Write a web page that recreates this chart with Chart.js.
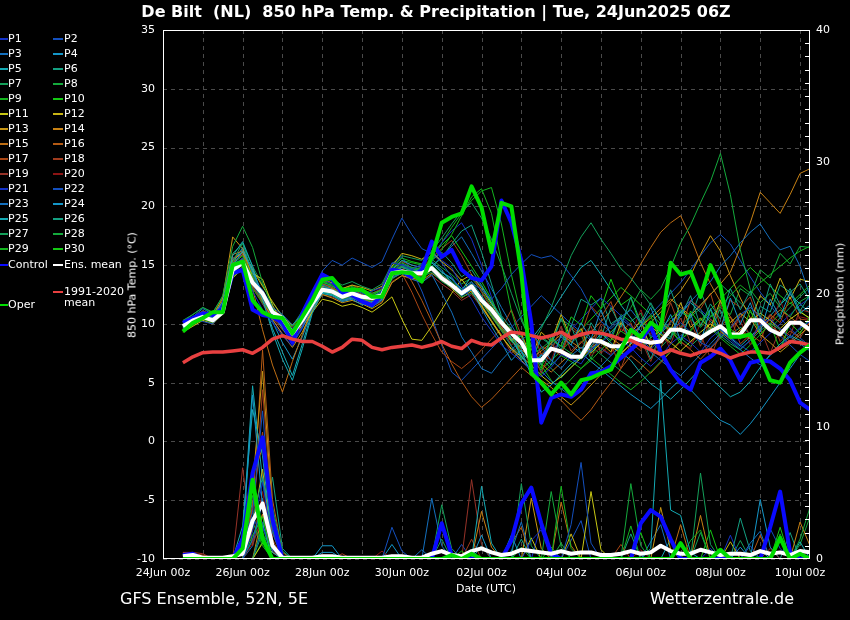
<!DOCTYPE html>
<html>
<head>
<meta charset="utf-8">
<script src="https://cdn.jsdelivr.net/npm/chart.js@4.4.1/dist/chart.umd.min.js"></script>
<style>
html, body { margin: 0; padding: 0; background: #000; }
#wrap { position: relative; width: 850px; height: 620px; overflow: hidden; font-family: "DejaVu Sans", sans-serif; color: #fff; }
canvas { position: absolute; left: 0; top: 0; }
.t { position: absolute; white-space: pre; }
.lg { position: absolute; font-size: 11px; line-height: 14px; white-space: pre; }
.rot { position: absolute; font-size: 11px; white-space: nowrap; transform: translate(-50%, -50%) rotate(-90deg); }
</style>
</head>
<body>
<div id="wrap">
  <canvas id="c" width="850" height="620"></canvas>
  <div class="t" style="left:0;width:872px;top:2px;text-align:center;font-weight:bold;font-size:16px;line-height:20px">De Bilt  (NL)  850 hPa Temp. &amp; Precipitation | Tue, 24Jun2025 06Z</div>
  <div class="rot" style="left:132px;top:285px">850 hPa Temp. (°C)</div>
  <div class="rot" style="left:840px;top:294px">Precipitation (mm)</div>
  <div class="t" style="left:436px;width:100px;top:582px;text-align:center;font-size:11px;line-height:14px">Date (UTC)</div>
  <div class="t" style="left:120px;top:589px;font-size:16px;line-height:20px">GFS Ensemble, 52N, 5E</div>
  <div class="t" style="right:56px;top:589px;font-size:16px;line-height:20px">Wetterzentrale.de</div>
  <div id="legend"></div>
</div>
<script>
// 6-hourly steps, hours after 24Jun 00z (first step 24Jun 12z, last 10Jul 06z)
const leadHours = Array.from({ length: 64 }, (_, i) => 12 + 6 * i)
const dateLabels = ["24Jun 00z", "26Jun 00z", "28Jun 00z", "30Jun 00z", "02Jul 00z", "04Jul 00z", "06Jul 00z", "08Jul 00z", "10Jul 00z"]

// 850 hPa temperature (°C)
const climTemp = [6.7,7.2,7.55,7.6,7.6,7.7,7.8,7.5, 8.0,8.7,9.0,8.7,8.5,8.5,8.1,7.6, 8.0,8.7,8.6,8.0,7.8,8.0,8.1,8.2, 8.0,8.2,8.5,8.1,7.9,8.6,8.3,8.2, 8.8,9.3,9.2,9.0,8.8,9.0,9.3,8.8, 9.1,9.3,9.2,9.0,8.7,8.6,8.2,7.8, 7.4,7.8,7.5,7.3,7.6,7.8,7.5,7.1, 7.4,7.6,7.6,7.5,8.0,8.5,8.4,8.2]
const meanTemp = [9.8,10.3,10.6,10.3,11.0,14.6,15.2,13.5, 12.6,11.0,10.5,9.2,10.3,11.7,12.9,12.75, 12.3,12.6,12.3,12.2,12.45,14.3,14.45,14.3, 14.3,14.75,13.9,13.3,12.6,13.2,12.0,11.2, 10.1,9.2,8.4,6.9,6.9,7.9,7.65,7.2, 7.2,8.6,8.5,8.1,8.1,8.8,8.6,8.4, 8.5,9.5,9.5,9.2,8.8,9.35,9.8,9.1, 9.1,10.3,10.3,9.5,9.1,10.1,10.1,9.5]
const controlTemp = [10.1,10.5,10.9,10.75,11.3,14.3,14.6,11.2, 10.75,10.6,10.1,8.4,10.9,12.6,14.2,13.75, 12.6,12.45,11.9,11.6,12.45,14.6,14.45,14.0, 14.6,17.0,15.7,16.3,14.6,13.9,13.7,14.9, 20.5,18.6,15.4,10.1,1.6,3.7,4.0,3.8, 4.4,5.8,5.9,6.4,7.1,7.8,8.6,9.8, 7.6,6.1,5.0,4.4,6.7,7.2,7.9,6.9, 5.2,6.7,6.9,6.8,6.2,5.2,3.3,2.7]
const operTemp = [9.35,10.1,10.5,11.0,11.0,15.0,15.3,12.0, 11.0,10.6,10.5,9.2,10.6,12.0,13.75,13.9, 12.9,12.9,12.9,12.3,12.3,14.3,14.4,14.3, 13.6,15.7,18.6,19.1,19.4,21.7,19.9,16.1, 20.3,20.0,14.3,5.8,5.0,4.0,5.0,4.0, 5.2,5.4,5.8,6.1,7.8,9.5,8.9,10.1, 9.5,15.2,14.2,14.45,12.3,15.0,13.2,8.9, 8.9,9.1,7.2,5.2,5.0,6.7,7.55,8.2]

const tP01 = [9.6,10.1,10.9,10.2,11.8,15.0,15.6,12.8, 11.2,10.1,9.0,8.1,9.8,12.0,13.8,13.4, 12.6,12.9,12.4,12.8,13.1,15.2,15.0,14.6, 15.1,16.2,15.4,14.8,13.2,12.1,10.6,9.4, 8.2,7.5,6.8,6.1,5.5,6.3,7.4,7.0, 6.6,7.9,8.4,9.1,8.6,8.0,7.1,6.4, 7.2,8.3,9.0,8.4,7.6,8.8,9.5,8.7, 7.9,8.6,9.9,10.4,9.6,8.8,9.7,10.2]
const tP02 = [9.9,10.4,10.2,10.0,11.0,14.2,14.8,13.6, 12.4,11.0,10.3,9.6,10.6,12.3,14.5,15.4, 15.0,15.6,15.2,14.8,15.3,17.2,19.0,17.6, 16.4,16.0,15.2,14.0,12.8,13.5,12.9,12.1, 13.0,14.2,15.1,15.9,15.6,15.8,15.2,14.1, 13.0,11.4,10.2,9.6,10.4,9.8,8.7,7.9, 8.6,9.4,10.1,9.3,8.4,8.0,8.9,9.6, 10.8,11.4,10.6,9.7,9.0,8.2,7.4,6.8]
const tP03 = [10.1,10.6,11.3,10.8,11.6,14.4,15.0,13.8, 12.9,11.4,10.8,9.9,10.9,12.4,13.3,12.9, 12.0,12.3,11.8,11.5,12.0,13.9,14.3,13.8, 13.5,14.2,12.6,11.0,8.9,7.6,6.2,5.8, 6.9,7.8,8.6,9.3,8.1,6.9,6.2,7.3, 8.0,7.6,8.9,9.8,10.6,11.2,10.1,9.0, 8.6,9.3,10.7,11.9,12.8,13.6,14.9,15.8, 16.9,17.8,18.5,17.2,16.3,16.6,14.9,12.4]
const tP04 = [9.7,10.2,10.7,10.5,11.4,14.9,16.2,14.5, 12.6,10.9,9.6,8.4,9.7,11.3,12.6,12.4, 11.9,12.1,11.6,11.9,12.2,14.6,15.4,15.0, 14.8,15.3,14.6,13.5,12.4,12.9,11.3,9.8, 8.4,6.9,7.8,5.6,7.4,6.5,9.1,8.2, 10.1,8.7,11.2,9.0,10.5,8.3,9.9,11.4, 9.2,10.8,8.6,10.9,8.4,11.3,9.5,12.2, 10.0,11.8,9.3,12.1,10.6,12.7,10.9,11.6]
const tP05 = [9.9,10.5,11.0,10.6,11.9,15.8,17.0,14.9, 12.1,9.3,7.0,5.2,7.9,10.9,12.7,12.5, 12.0,12.2,11.8,11.4,12.1,14.1,14.6,14.0, 14.5,15.2,14.4,13.9,12.8,14.1,13.2,11.8, 10.5,8.7,7.3,5.9,4.2,4.8,5.7,6.6, 7.2,8.1,9.2,8.4,7.6,6.9,5.8,4.9, 4.3,3.6,4.4,5.3,6.2,5.4,4.6,3.8, 4.2,5.1,6.3,7.4,8.3,9.0,8.6,8.1]
const tP06 = [9.5,10.0,10.6,10.4,11.1,14.3,15.1,13.4, 12.2,11.2,10.4,9.5,10.5,12.0,13.1,12.9, 12.6,12.9,12.7,12.3,12.7,14.2,14.8,14.5, 14.2,14.9,15.6,16.8,17.9,18.4,16.1,13.4, 10.7,9.6,6.9,8.2,6.5,9.0,7.8,9.9, 7.4,10.1,8.8,11.4,9.7,12.3,10.1,11.8, 10.2,12.9,10.6,12.4,9.8,11.7,10.4,13.0, 11.2,12.8,10.5,13.4,11.6,13.0,11.1,12.5]
const tP07 = [9.8,10.2,10.5,10.4,11.3,15.3,16.9,14.2, 12.3,10.7,9.9,8.7,10.1,11.6,12.8,12.5, 12.2,12.6,12.4,12.1,12.4,14.0,14.3,14.1, 14.0,14.4,13.6,13.1,12.3,12.6,11.8,10.6, 9.4,8.1,7.3,8.2,9.6,11.4,13.6,15.8, 17.4,18.6,17.2,16.0,14.7,13.9,12.8,11.6, 10.4,9.6,8.8,8.1,8.9,9.7,9.0,8.3, 7.8,8.6,9.4,10.1,9.5,8.8,9.6,10.3]
const tP08 = [10.2,10.8,11.4,10.9,12.4,16.6,18.3,16.5, 13.5,11.4,9.9,9.0,10.6,12.5,13.6,13.2, 12.8,13.1,12.9,12.6,12.9,14.4,14.9,14.6, 14.7,15.0,14.2,13.6,12.9,13.4,12.2,10.8, 9.6,8.7,8.0,7.4,7.9,8.6,8.1,7.5, 7.0,7.7,8.5,9.3,10.2,11.4,12.9,12.1, 13.0,14.8,16.9,18.4,20.3,22.1,24.5,21.0, 16.3,12.9,11.8,12.6,11.4,10.6,11.9,12.4]
const tP09 = [9.4,9.9,10.4,10.1,10.8,14.0,14.7,13.0, 11.8,10.9,10.2,9.4,10.2,11.4,12.6,12.4, 12.1,12.4,12.2,11.9,12.3,14.5,15.2,14.8, 14.6,15.4,16.3,17.6,19.2,20.8,21.5,19.4, 15.2,11.1,8.3,6.4,5.7,6.5,7.3,6.8, 6.2,6.9,7.8,8.6,9.4,8.8,8.1,8.8, 9.6,10.5,11.2,10.4,9.7,10.6,11.5,12.4, 13.3,12.6,13.5,14.2,14.9,15.6,16.2,16.6]
const tP10 = [9.7,10.3,10.9,10.6,11.5,15.1,15.8,13.9, 12.5,11.3,10.4,9.8,10.8,12.1,13.5,13.3, 12.7,13.0,12.8,12.4,12.9,14.8,15.6,15.3, 15.1,15.9,16.7,17.5,16.2,14.9,13.6,12.1, 10.3,9.5,7.1,7.9,6.2,8.8,8.1,10.6, 9.9,12.4,11.3,13.8,11.6,12.2,9.8,10.7, 8.5,9.7,8.3,11.1,9.9,11.2,8.8,9.6, 8.7,11.2,9.1,10.0,7.8,10.1,9.2,10.6]
const tP11 = [9.3,9.8,10.3,10.0,10.9,13.9,14.7,14.3, 13.8,11.6,10.0,9.1,9.8,11.0,12.1,11.9, 11.5,11.7,11.4,11.0,11.6,12.3,10.4,8.7, 8.6,9.8,11.2,12.6,13.8,12.7,11.5,10.2, 8.9,7.9,7.2,6.5,5.6,4.9,5.5,6.3, 7.1,7.9,8.7,8.1,7.5,8.3,9.0,9.8, 9.1,8.4,7.7,8.5,9.3,10.0,9.4,8.7, 9.5,10.2,10.9,10.3,9.6,10.4,11.0,10.5]
const tP12 = [9.6,10.1,10.6,10.3,11.7,15.4,16.1,14.6, 13.2,11.9,10.6,9.9,10.8,12.2,13.7,13.5, 13.0,13.3,13.1,12.8,13.2,14.9,16.0,15.8, 15.5,16.1,15.3,14.6,13.7,14.2,13.0,11.7, 10.4,8.6,9.2,7.1,9.3,8.5,10.8,8.7, 9.6,7.5,8.4,7.6,10.1,9.2,10.3,7.9, 10.2,9.4,11.8,9.7,10.5,9.6,12.0,10.1, 10.9,10.2,12.4,11.6,13.9,12.1,13.8,13.6]
const tP13 = [10.0,10.5,11.0,10.7,12.2,17.4,16.4,13.9, 12.0,10.4,9.1,8.0,9.3,11.1,12.5,12.2, 11.8,12.0,11.7,11.3,11.8,13.5,14.1,13.9, 13.7,14.3,13.7,13.0,12.2,12.8,11.6,10.3, 9.0,7.8,6.9,6.0,5.2,4.6,3.8,3.1, 3.9,4.8,5.7,6.5,7.4,8.3,9.2,10.1, 11.0,11.9,12.8,14.1,15.9,17.5,16.2,14.1, 12.2,10.5,9.1,8.4,7.6,8.3,9.1,9.8]
const tP14 = [9.5,10.0,10.4,10.2,11.3,14.8,15.6,13.5, 12.3,11.0,10.1,9.2,10.4,11.9,13.2,13.0, 12.5,12.7,12.4,12.0,12.4,14.2,14.6,14.2, 14.1,14.6,13.9,13.2,12.5,13.0,11.9,10.7, 9.5,8.6,7.8,7.1,7.7,8.4,9.1,8.5, 7.9,8.7,9.5,8.8,8.2,9.0,9.8,10.5, 11.3,12.1,11.4,10.7,11.6,12.5,13.4,14.4, 16.5,18.6,21.2,20.3,19.4,21.0,22.8,23.2]
const tP15 = [9.9,10.4,10.8,10.5,12.0,15.9,16.2,13.0, 9.5,6.5,4.2,6.8,9.1,11.5,13.0,12.7, 12.3,12.6,12.2,11.8,12.3,14.1,14.6,14.3, 14.4,14.8,14.0,13.4,12.6,13.1,12.0,10.8, 9.7,8.8,8.0,7.3,6.6,5.9,6.7,7.5, 8.4,9.3,10.2,11.1,12.3,13.6,15.1,16.5, 17.8,18.6,19.2,17.4,15.2,13.4,11.9,10.6, 9.5,8.7,9.6,10.4,11.2,10.6,9.9,9.3]
const tP16 = [9.8,10.3,10.7,10.4,11.6,15.2,15.9,14.0, 12.6,11.2,10.2,9.4,10.5,12.1,13.4,13.1, 12.6,12.9,12.5,12.2,12.6,14.3,14.9,13.6, 12.0,10.2,8.3,6.6,5.1,3.8,2.9,3.6, 4.5,5.4,6.3,5.6,4.8,4.1,3.5,2.6, 1.8,2.7,3.9,5.0,6.2,7.3,6.6,5.8, 6.7,7.6,8.5,7.8,7.0,7.9,8.8,9.7, 10.6,11.4,10.7,9.9,9.2,8.5,9.3,10.1]
const tP17 = [9.6,10.1,10.5,10.3,11.4,14.6,15.4,13.2, 11.9,10.6,9.7,8.9,10.0,11.5,12.8,12.6, 12.1,12.4,12.0,11.7,12.1,13.9,14.3,12.7, 10.8,9.1,7.6,6.8,6.2,6.9,7.8,8.7, 9.6,11.2,9.0,9.7,7.4,8.3,7.5,9.8, 9.1,11.5,10.6,11.9,9.3,10.1,7.9,8.7, 7.9,10.3,9.4,12.0,11.3,12.6,9.8,10.6, 8.3,9.1,8.5,10.8,10.1,12.3,10.4,10.3]
const tP18 = [10.1,10.6,11.1,10.8,12.1,15.6,16.0,14.1, 12.7,11.5,10.5,9.7,10.9,12.4,13.8,13.5, 13.0,13.3,12.9,12.6,13.0,14.6,15.3,15.0, 14.8,15.6,16.4,17.1,15.8,14.2,12.7,11.3, 10.0,9.6,7.2,7.9,5.8,7.9,7.3,9.6, 8.9,9.8,7.5,8.3,6.2,8.4,7.7,10.1, 9.4,11.8,9.6,10.3,8.1,10.4,9.7,12.0, 11.4,12.3,9.9,10.8,8.5,9.4,8.8,10.2]
const tP19 = [9.4,9.9,10.4,10.1,11.0,14.1,14.9,13.1, 11.7,10.5,9.5,8.6,9.9,11.3,12.5,12.3, 11.9,12.2,11.8,11.5,11.9,13.6,14.1,13.8, 13.6,14.1,13.4,12.8,12.0,12.5,11.4,10.2, 9.1,7.5,8.3,6.2,8.1,7.6,9.8,7.7, 8.5,7.7,10.0,9.3,10.2,8.0,8.7,6.8, 8.9,8.3,10.5,8.4,9.1,7.1,9.3,8.7, 10.9,8.8,9.6,7.5,9.6,9.0,11.2,11.0]
const tP20 = [9.7,10.2,10.7,10.4,11.3,14.7,15.3,13.6, 12.2,10.9,9.9,9.1,10.3,11.8,13.0,12.8, 12.3,12.6,12.3,12.0,12.4,14.0,14.6,14.3, 14.2,14.8,14.1,13.5,12.8,13.3,12.2,11.0, 9.8,8.2,8.8,6.7,7.5,6.9,9.1,8.5, 9.3,7.3,8.0,7.4,9.6,9.0,11.2,9.1, 9.8,7.7,8.5,7.9,10.1,9.5,11.7,9.6, 10.3,8.2,10.4,9.8,12.0,9.9,10.6,10.4]
const tP21 = [9.8,10.4,11.0,10.7,11.9,15.5,15.9,13.4, 11.7,10.3,9.2,8.3,9.6,11.4,13.1,12.9, 12.4,12.7,12.3,12.0,12.5,14.4,15.1,14.8, 14.6,15.3,16.9,17.9,18.6,17.2,15.0,12.3, 9.8,8.1,6.9,6.1,6.8,7.7,8.6,9.5, 10.4,11.3,12.2,11.5,10.7,9.9,9.1,8.4, 9.3,10.2,11.1,12.0,11.2,10.4,9.6,8.9, 8.2,7.6,8.4,9.2,10.0,10.8,11.6,12.2]
const tP22 = [10.0,10.5,10.9,10.6,11.7,15.0,15.5,13.2, 11.9,10.7,9.8,9.0,10.2,11.8,13.4,13.2, 12.8,13.0,12.6,12.3,12.8,14.9,15.7,14.6, 12.8,10.6,8.2,5.9,5.2,6.1,7.0,7.9, 8.8,9.7,10.6,11.5,12.4,11.6,10.8,10.0, 9.3,8.6,7.9,7.3,8.1,9.0,9.9,10.8, 11.7,12.6,13.5,14.6,15.8,16.9,17.6,16.8, 15.4,14.0,12.7,11.6,10.5,9.6,8.8,8.1]
const tP23 = [9.5,10.0,10.5,10.2,11.1,14.5,15.2,13.5, 12.1,10.8,9.7,8.9,10.1,11.6,12.9,12.7, 12.2,12.5,12.1,11.8,12.2,14.0,14.6,14.4, 14.2,14.9,15.7,16.6,17.4,16.0,14.5,13.0, 11.4,9.9,8.5,7.2,6.0,5.1,4.5,3.8, 4.6,5.5,6.4,7.3,8.2,9.1,8.4,7.6, 6.9,6.2,5.6,6.5,7.4,8.3,9.2,8.5, 7.8,7.1,6.5,7.3,8.1,8.9,8.3,7.7]
const tP24 = [9.8,10.3,10.8,10.5,11.5,15.1,16.5,14.4, 12.3,10.2,8.4,7.0,8.9,11.2,12.9,12.6, 12.1,12.4,12.1,11.8,12.3,14.2,14.8,14.5, 14.3,14.9,14.2,13.5,12.7,13.2,12.1,10.9, 9.7,8.6,7.6,6.7,7.3,8.1,8.9,8.2, 7.5,6.8,6.1,5.4,4.7,4.0,3.4,2.8, 3.6,4.5,5.3,4.4,3.5,2.6,1.8,1.4, 0.6,1.5,2.6,3.8,5.0,6.2,7.4,8.5]
const tP25 = [9.9,10.4,10.9,10.6,11.8,15.5,16.3,14.7, 12.2,9.6,7.6,5.6,8.3,11.1,12.8,12.6, 12.2,12.5,12.2,11.9,12.4,14.3,14.9,14.6, 14.5,15.2,14.4,13.8,13.0,13.6,12.4,11.1, 9.9,8.8,7.9,8.7,9.8,11.0,12.3,13.6, 14.8,15.4,14.2,12.9,11.6,10.5,9.4,8.4, 9.2,10.1,11.0,11.8,11.0,10.2,9.5,8.8, 8.1,8.9,9.8,10.7,11.6,12.5,11.7,10.9]
const tP26 = [9.6,10.1,10.6,10.3,11.2,14.6,15.3,13.6, 12.3,11.1,10.1,9.3,10.4,11.9,13.2,13.0, 12.5,12.8,12.4,12.1,12.5,14.3,14.9,14.7, 14.6,15.4,16.1,15.2,14.0,14.6,13.3,11.9, 10.6,8.7,9.0,6.8,8.8,8.2,10.4,9.8, 12.1,11.6,12.2,10.0,10.6,8.4,9.1,7.0, 9.2,8.7,11.0,10.5,12.8,10.6,11.2,9.1, 9.7,9.2,11.5,11.0,13.3,12.7,13.4,12.0]
const tP27 = [10.3,10.8,11.4,11.0,12.3,16.0,16.8,14.9, 13.3,11.8,10.7,9.8,11.1,12.7,14.0,13.8, 13.3,13.6,13.2,12.9,13.4,15.1,15.8,15.6, 15.4,16.2,17.3,18.5,19.6,20.3,19.0,17.2, 15.0,12.6,10.3,8.5,7.1,6.2,5.4,6.3, 7.2,8.1,7.4,6.7,6.0,5.4,6.2,7.1, 8.0,8.9,9.8,10.7,11.6,12.5,13.4,12.6, 11.8,11.0,10.3,9.6,10.5,11.4,12.3,13.1]
const tP28 = [9.7,10.2,10.7,10.4,11.4,14.8,15.5,13.8, 12.4,11.1,10.2,9.3,10.5,12.0,13.3,13.1, 12.6,12.9,12.5,12.2,12.6,14.4,15.0,14.8, 14.7,15.5,14.8,14.2,13.4,13.9,12.8,11.5, 10.3,8.5,9.0,6.8,8.9,8.3,10.5,8.4, 9.1,7.0,9.2,8.6,10.8,10.2,10.9,8.8, 9.5,8.9,11.1,10.6,11.3,9.2,11.4,10.8, 13.0,12.4,14.6,13.9,16.0,15.1,16.6,16.5]
const tP29 = [10.0,10.5,11.1,10.7,11.9,15.4,16.1,14.2, 12.7,11.3,10.3,9.5,10.7,12.2,13.6,13.4, 12.9,13.2,12.8,12.5,12.9,14.7,15.4,15.2, 15.0,15.8,16.9,18.2,19.4,20.5,21.3,21.6, 18.5,14.2,10.6,8.1,6.5,5.2,4.4,5.3, 6.2,7.1,6.4,5.7,5.0,4.4,5.1,5.9, 6.8,7.7,8.6,9.5,10.4,9.6,8.8,8.1, 7.4,8.2,9.1,10.0,10.9,11.8,11.1,10.4]
const tP30 = [9.5,10.0,10.5,10.2,11.1,14.4,15.0,13.3, 12.0,10.8,9.8,9.0,10.1,11.5,12.7,12.5, 12.0,12.3,12.0,11.7,12.1,13.8,14.4,14.1, 13.9,14.6,13.9,13.3,12.5,13.0,11.9,10.7, 9.5,8.5,7.6,6.8,6.1,6.9,7.7,8.6, 9.5,10.4,11.3,12.2,13.1,12.4,11.6,10.8, 10.0,9.3,8.6,9.4,10.3,11.2,12.1,13.0, 13.9,14.8,14.0,13.2,12.4,11.7,12.5,13.3]

// 6-hourly precipitation (mm)
const meanRain = [0.2,0.3,0.1,0.1,0.1,0.2,0.4,2.9, 4.2,1.0,0.1,0.1,0.1,0.1,0.2,0.2, 0.1,0.1,0.1,0.1,0.1,0.2,0.2,0.1, 0.1,0.4,0.6,0.3,0.2,0.6,0.8,0.5, 0.3,0.4,0.7,0.6,0.5,0.4,0.6,0.4, 0.5,0.5,0.3,0.3,0.4,0.6,0.4,0.5, 1.0,0.6,0.4,0.4,0.7,0.5,0.3,0.4, 0.4,0.3,0.6,0.4,0.5,0.3,0.6,0.5]
const controlRain = [0.3,0.4,0,0,0,0,1.5,6.5, 9.2,3.0,0,0,0,0,0,0, 0,0,0,0,0,0,0,0, 0,0,2.7,0.3,0,0,0,0, 0,1.4,4.2,5.4,2.7,0.4,0,0, 0,0,0,0,0,0,2.7,3.7, 3.2,1.5,0,0,0,0,0,0, 0,0,0,2.4,5.1,0.5,0,0]
const operRain = [0,0,0,0,0,0,0.8,6.0, 1.5,0,0,0,0,0,0,0, 0,0,0,0,0,0,0,0, 0,0,0,0.3,0,0.4,0,0, 0,0,0,0,0,0,0,0, 0,0,0,0,0,0,0,0, 0,0,1.2,0,0,0,0.7,0, 0,0,0,0,1.6,0,0.4,0]

const rP01 = [0.3,0.4,0,0,0,0,0,2.1, 5.8,1.2,0,0,0,0,0,0, 0,0,0,0,0,0,0,0, 0,0,0,0,0,0,0,0, 0,0,0,1.4,2.2,0,0,0, 0,0,0,0,0,0,0,0, 0,0,0,0,0,0.8,0,0, 0,0,0,0,1.6,0,0,0]
const rP02 = [0,0,0,0,0,0,0.8,3.5, 11.2,2.0,0,0,0,0,0,0, 0,0,0,0,0,2.4,0.6,0, 0,0,0,0,0,0,0,0, 0,0,0,0,0,0,0,2.6, 7.3,1.2,0,0,0,0,0,0, 0,0,0,0,0,0,0,0, 0,1.0,0,0,0,0,0,0]
const rP03 = [0,0,0,0,0,0,0,1.5, 4.2,0.8,0,0,0,0,0,0, 0,0,0,0,0,0,0,0, 0,4.6,1.0,0,0,0,0,0, 0,0.6,2.8,0,0,0,0,0, 0,0,0,0,0,0,0,0, 0,0,0,0,0,0,0,0, 0,1.2,2.1,0,0,0,0,0]
const rP04 = [0,0.2,0,0,0,0,1.2,12.4, 4.0,0.5,0,0,0,0,0.5,0.5, 0,0,0,0,0,0,0,0, 0,0,0,0,0,0,1.8,0, 0,0,0,0,0,0,0,0, 0,0,0,0,0,0,0,0, 0,0,0,0,0,0,0,0, 0.9,0,0,0,0,0,0,0]
const rP05 = [0,0,0,0,0,0,2.5,11.3, 7.8,1.0,0,0,0,0,0,0, 0,0,0,0,0,0,0,0, 0,0,0,0,0,0,5.5,1.2, 0,0,0,0,0,0,0,0, 0,0,0,0,0,0,0,0.8, 13.5,3.7,3.3,0.5,0,0,0,0, 0,0,0.7,0,0,0,0,0]
const rP06 = [0,0,0,0,0,0,0,3.0, 6.2,2.4,0,0,0,0,0,0, 0,0,0,0,0,0,0,0, 0,0,0,0,0,0,0,0, 0,0,1.5,0,0,0,0,0, 0,0,0,0,0,0,0,0, 0,0,0,0,0,0,0,0, 3.1,0.6,0,0,0,0,0,0]
const rP07 = [0,0,0,0,0,0,0,0, 2.6,3.9,0.6,0,0,0,0,0, 0,0,0,0,0,0,0,0, 0,0,4.1,0.8,0,0,0,0, 0,0,5.7,1.0,0,0,0,0, 0,0,0,0,0,0,0,0, 0,0,0,0,6.5,1.1,0,0, 0,0,0,0,0,0,0,0]
const rP08 = [0,0,0,0,0,0,0,4.8, 2.0,0,0,0,0,0,0,0, 0,0,0,0,0,0,0,0, 0,0,0,0,0,0,0,0, 0,0,0,0,0,5.1,0.9,0, 0,0,0,0,0,5.7,1.0,0, 0,0,0,0,0,0,0,0, 0,0,0,0,0,0,1.5,3.9]
const rP09 = [0,0,0,0,0,0,0.5,2.8, 1.0,0,0,0,0,0,0,0, 0,0,0,0,0,0,0,0, 0,0,0,0,0,0,0,0, 0,0,0,0,0,0,5.5,0.8, 0,0,0,0,0,0,0,0, 0,0,0,1.4,2.2,0,0,0, 0,0,0,0,0,0,0,0]
const rP10 = [0,0,0,0,0,0,0,1.8, 3.2,0,0,0,0,0,0,0, 0,0,0,0,0,0,0,0, 0,0,0,0,0.6,0,0,0, 0,0,0,0,0,0,0,0, 0,0,0,0,0,0,2.0,0, 0,0,0,0,0,0,0,0, 0,0,0,0,2.4,0,0,0]
const rP11 = [0,0,0,0,0,0,0,0, 1.2,0.5,0,0,0,0,0,0, 0,0,0,0,0,0,0,0, 0,0,0,0,0,0,0,0, 0,0,0,1.6,0,0,0,0, 0,5.1,0.7,0,0,0,0,0, 0,0,0,0,0,0,0,0, 0,0,0,0,0,0,0,0]
const rP12 = [0,0,0,0,0,0,0,2.4, 6.8,0.8,0,0,0,0,0,0, 0,0,0,0,0,0,0,0, 0,0,0,0,0,0,0,0, 0,0,0,0,0,0,0,1.9, 0,0,0,0,0,0,0,0, 0,0,0,0,0,0,0,1.3, 0,0,0,0,0,0,0,0]
const rP13 = [0,0,0,0,0,0,0,5.5, 14.2,3.6,0,0,0,0,0,0, 0,0,0,0,0,0,0,0, 0,0,0,0,0,0,0,0, 0,0,0,4.6,0.8,0,0,0, 0,0,0,0,0,0,0,0, 3.9,0.7,0,0,0,0,0,0, 0,0,0,0,0,0,0,0]
const rP14 = [0,0,0,0,0,0,0,0, 3.4,1.1,0,0,0,0,0,0, 0,0,0,0,0,0,0,0, 0,0,0,0,0,0,3.6,0.9, 0,0,0,0,0,0,0,0, 0,0,0,0,0,0,0,0, 0,0,0,0,3.3,0,0,0, 0,0,0,0,0,0,2.8,1.0]
const rP15 = [0,0,0,0,0,0,0,6.3, 8.4,2.0,0,0,0,0,0,0, 0,0,0,0,0,0,0,0, 0,0,0,0,0,0,0,0, 0,0,0,0,0,0,4.3,1.0, 0,0,0,0,0,0,0,0, 0,0,2.6,0,0,0,0,0, 0,0,0,0,0,0,0,0]
const rP16 = [0,0,0,0,0,0,0,3.8, 15.8,4.5,0.5,0,0,0,0,0, 0,0,0,0,0,0,0,0, 0,0,0,0,0,0,0,0, 0,1.2,2.4,0,0,0,0,0, 0,0,0,0,0,0,0,0, 0,0,0,0,0,0,0,0, 0,0,1.8,0,0,0,0,0]
const rP17 = [0.5,0.4,0.3,0,0,0,0,4.1, 9.6,1.5,0,0,0,0,0,0, 0,0,0,0,0,0,0,0, 0,0,0,0,0,0,0,0, 0,0,0,0,0,0,0,0, 0,0,0,0,1.1,0,0,0, 0,0,0,0,0,0,0,0, 0,0,0,0,0,0,0,0]
const rP18 = [0,0,0,0,0,0,0,2.2, 12.8,3.0,0,0,0,0,0,0, 0.4,0,0,0,0,0,0,0, 0,0,0,0,0,1.5,0,0, 0,0,0,0,0,0,0,0, 0,0,0,0,0,0,0,0, 0,0,0,0,0,0,0,0, 0,0,0,0,0,0,0,0]
const rP19 = [0.5,0.5,0.4,0,0,0,6.9,1.0, 3.4,0.6,0,0,0,0,0,0, 0,0,0,0,0,0,0,0, 0,0,0,0,0,6.0,1.1,0, 0,0,0,0,0,0,0,0, 0,0,0,0,0,0,0,0, 0,0,0,0,0,0,0,0, 0,0,0,0.8,0,0,0,0]
const rP20 = [0,0,0,0,0,0,0,1.2, 5.1,0.9,0,0,0,0,0,0, 0,0,0,0,0.6,0,0,0, 0,0,0,0,0,0,0,0, 0,0,0,0,0,0,0,0, 0,0,0,0,0,0,0.7,0, 0,0,0,0,0,0,0,0, 0,0,0,0,0,0,0,0]
const rP21 = [0,0,0,0,0,0,0,0, 2.4,0.7,0,0,0,0,0,0, 0,0,0,0,0,0,0,0, 0,0,0,0,0,0,0,0, 0,0,0,0,2.6,0.5,0,0, 0,0,0,0,0,0,0,0, 0,0,0,0,0,0,0,1.8, 0,0,0,0,0,0,0,0]
const rP22 = [0,0,0,0,0,0,0.9,3.1, 1.8,0,0,0,0,0,0,0, 0,0,0,0,0,0,0,0, 0,0,0,0,1.1,0,0,0, 0,0,0,0,0,0,0,1.4, 2.9,0,0,0,0,0,0,0, 0,0,0,0,0,0,0,0, 0,0,0,2.3,0.8,0,0,0]
const rP23 = [0,0,0,0,0,0,0,1.0, 4.6,0.9,0,0,0,0,0,0, 0,0,0,0,0,0,0,0, 0.7,0,0,0,0,0,0,0, 0,0,0,0,0,0,0,0, 0,0,0,0,0,0,0,1.3, 2.6,0,0,0,0,0,0,0, 0,0,0,0,0,0,0,0]
const rP24 = [0,0,0,0,0,0,0.6,4.4, 2.7,0,0,0,0,0,1.0,1.0, 0,0,0,0,0,1.1,0,0, 0,0,0,0,0,0,0,0, 0,1.8,0,0,0,0,0,0, 0,0,0,0,0,0,0,0, 0,0,0,0,0,0,0,0, 0,0,4.5,0.9,0,0,0,0]
const rP25 = [0,0,0,0,0,0,1.8,13.1, 6.0,1.2,0,0,0,0,0,0, 0,0,0,0,0,0,0,0, 0,0,0,0,0,0,1.0,0, 0,0,0,0,0,0,0,0, 0,0,0,0,0,0,0,0, 0,1.5,0,0,0,0,0,0, 0,0,0,0,0,0,1.3,0]
const rP26 = [0,0,0,0,0,0,0,0, 2.0,6.2,0.8,0,0,0,0,0, 0,0,0,0,0,0,0,0, 0,0,0,0,0,0,0,0, 0,0,0,0,0,0,0,0, 0,0,0,0,0,1.9,0,0, 0,0,0,0,0,0,0,0, 0,0,0,0,0,2.0,0,0]
const rP27 = [0,0,0,0,0,0,0,2.6, 3.3,0,0,0,0,0,0,0, 0,0,0,0,0,0,0,0, 0,0,1.5,0,0,0,0,0, 0,0,0,0,0,0,0,0, 0,0,0,0,0,0,0,0, 0,0,0,0,2.0,0,0,0, 1.4,0,0,0,0,0,0,0]
const rP28 = [0,0,0,0,0,0,0,1.4, 2.5,0,0,0,0,0,0,0, 0,0,0,0,0,0,0,0, 0,0,0,0,0,0,0,0, 0,0,0,0,0,0,1.2,0, 0,0,0,0,0,0,0,0, 0,0,0,0,0,0,0,0, 0,0,0,0,0,0,1.1,3.2]
const rP29 = [0,0,0,0,0,0,1.0,5.9, 1.6,0,0,0,0,0,0,0, 0,0,0,0,0,0,0,0, 0,0,0,0,0,0,0,0, 0,0,0.9,0,0,0,0,0, 0,0,0,0,0,2.5,0,0, 0,0,0,0,0,0,0,0, 0,0,0,0,1.9,0,0,0]
const rP30 = [0,0,0,0,0,0,0,0, 1.3,2.2,0,0,0,0,0,0, 0,0,0,0,0,0,0,0, 0,0,0,0,0,0,0,0, 0,0,0,0,0,0.9,0,0, 0,0,0,0,0,0,0,0, 0,0,0,0,0,2.2,0,0, 0,0,0,0,0,0,0,0]

const memberTemp = [tP01, tP02, tP03, tP04, tP05, tP06, tP07, tP08, tP09, tP10, tP11, tP12, tP13, tP14, tP15, tP16, tP17, tP18, tP19, tP20, tP21, tP22, tP23, tP24, tP25, tP26, tP27, tP28, tP29, tP30]
const memberRain = [rP01, rP02, rP03, rP04, rP05, rP06, rP07, rP08, rP09, rP10, rP11, rP12, rP13, rP14, rP15, rP16, rP17, rP18, rP19, rP20, rP21, rP22, rP23, rP24, rP25, rP26, rP27, rP28, rP29, rP30]

// P1..P20 palette, P21..P30 reuse P1..P10
const memberPalette = ["#1432c8", "#1450be", "#1470be", "#1496c8", "#14aab4", "#14a082", "#14a05a", "#14aa3c", "#14b41e", "#14c814",
    "#c8c814", "#c8b414", "#c89614", "#c88214", "#be6e14", "#b45a14", "#aa4614", "#a03c1e", "#963228", "#8c1414"]
const colorOf = (m) => memberPalette[m % 20]
const controlColor = "#0a0aff"
const operColor = "#00dc00"
const meanColor = "#ffffff"
const climColor = "#e84040"
const gridColor = "#4a4a4a"

// Légende à gauche (HTML)
const legendBox = document.getElementById("legend")
function addLegend(col, y, color, label, lh) {
    const sw = document.createElement("div")
    sw.style.cssText = `position:absolute;left:${col ? 53 : 0}px;top:${y - 1}px;width:${col ? 10 : 8}px;height:2px;background:${color}`
    const tx = document.createElement("div")
    tx.className = "lg"
    tx.style.left = (col ? 64 : 8) + "px"
    tx.style.top = (y - (lh || 14) / 2) + "px"
    if (lh) tx.style.lineHeight = lh + "px"
    tx.textContent = label
    legendBox.appendChild(sw)
    legendBox.appendChild(tx)
}
for (let k = 0; k < 15; k++) {
    addLegend(0, 39 + 15 * k, colorOf(2 * k), "P" + (2 * k + 1))
    addLegend(1, 39 + 15 * k, colorOf(2 * k + 1), "P" + (2 * k + 2))
}
addLegend(0, 265, controlColor, "Control")
addLegend(1, 265, meanColor, "Ens. mean")
addLegend(1, 292, climColor, "1991-2020", 10)
const meanWord = document.createElement("div")
meanWord.className = "lg"
meanWord.style.cssText = "left:64px;top:298px;line-height:10px"
meanWord.textContent = "mean"
legendBox.appendChild(meanWord)
addLegend(0, 305, operColor, "Oper")

function series(values, color, width, axis, order) {
    return {
        data: values.map((v, i) => ({ x: leadHours[i], y: v })),
        borderColor: color,
        borderWidth: width,
        yAxisID: axis,
        order: order,
        pointRadius: 0,
        fill: false,
        tension: 0,
        borderJoinStyle: "round",
    }
}

const datasets = [
    series(operTemp, operColor, 4, "y", 0),
    series(operRain, operColor, 4, "y2", 0),
    series(climTemp, climColor, 3.5, "y", 1),
    series(meanTemp, meanColor, 4, "y", 2),
    series(meanRain, meanColor, 4, "y2", 2),
    series(controlTemp, controlColor, 4, "y", 3),
    series(controlRain, controlColor, 4, "y2", 3),
]
memberTemp.forEach((vals, m) => datasets.push(series(vals, colorOf(m), 1, "y", 6)))
memberRain.forEach((vals, m) => datasets.push(series(vals, colorOf(m), 1, "y2", 5)))

// grille pointillée + cadre + petites graduations à droite
const framePlugin = {
    id: "frame",
    beforeDatasetsDraw(chart) {
        const { ctx, chartArea: a, scales } = chart
        ctx.save()
        ctx.strokeStyle = gridColor
        ctx.lineWidth = 1
        ctx.setLineDash([4, 4])
        scales.x.ticks.forEach((t) => {
            const px = Math.round(scales.x.getPixelForValue(t.value)) + 0.5
            ctx.beginPath(); ctx.moveTo(px, a.top); ctx.lineTo(px, a.bottom); ctx.stroke()
        })
        scales.y.ticks.forEach((t) => {
            const py = Math.round(scales.y.getPixelForValue(t.value)) + 0.5
            ctx.beginPath(); ctx.moveTo(a.left, py); ctx.lineTo(a.right, py); ctx.stroke()
        })
        ctx.restore()
    },
    afterDatasetsDraw(chart) {
        const { ctx, chartArea: a, scales } = chart
        ctx.save()
        ctx.strokeStyle = "#ffffff"
        ctx.lineWidth = 1
        ctx.strokeRect(Math.round(a.left) + 0.5, Math.round(a.top) + 0.5, Math.round(a.right - a.left) - 1, Math.round(a.bottom - a.top) - 1)
        for (let mm = 1; mm < 40; mm++) {
            const py = Math.round(scales.y2.getPixelForValue(mm)) + 0.5
            ctx.beginPath(); ctx.moveTo(a.right - 5, py); ctx.lineTo(a.right, py); ctx.stroke()
        }
        ctx.restore()
    },
}

const tickFont = { family: "'DejaVu Sans', sans-serif", size: 11 }
const noGrid = { display: false, drawTicks: false, tickLength: 0 }

new Chart(document.getElementById("c"), {
    type: "line",
    data: { datasets },
    options: {
        responsive: false,
        animation: false,
        devicePixelRatio: 1,
        layout: { padding: { top: 30, left: 0, right: 0, bottom: 0 } },
        plugins: { legend: { display: false }, tooltip: { enabled: false } },
        scales: {
            x: {
                type: "linear",
                min: 0,
                max: 390,
                afterFit: (s) => { s.height = 61 },
                grid: noGrid,
                border: { display: false },
                ticks: {
                    stepSize: 24,
                    includeBounds: false,
                    autoSkip: false,
                    maxRotation: 0,
                    padding: 8,
                    color: "#ffffff",
                    font: tickFont,
                    callback: (v) => (v % 48 === 0 ? dateLabels[v / 48] : ""),
                },
            },
            y: {
                position: "left",
                min: -10,
                max: 35,
                afterFit: (s) => { s.width = 163 },
                grid: noGrid,
                border: { display: false },
                ticks: { stepSize: 5, padding: 8, color: "#ffffff", font: tickFont },
            },
            y2: {
                position: "right",
                min: 0,
                max: 40,
                afterFit: (s) => { s.width = 40 },
                grid: noGrid,
                border: { display: false },
                ticks: { stepSize: 10, padding: 6, color: "#ffffff", font: tickFont },
            },
        },
    },
    plugins: [framePlugin],
})
</script>
</body>
</html>
